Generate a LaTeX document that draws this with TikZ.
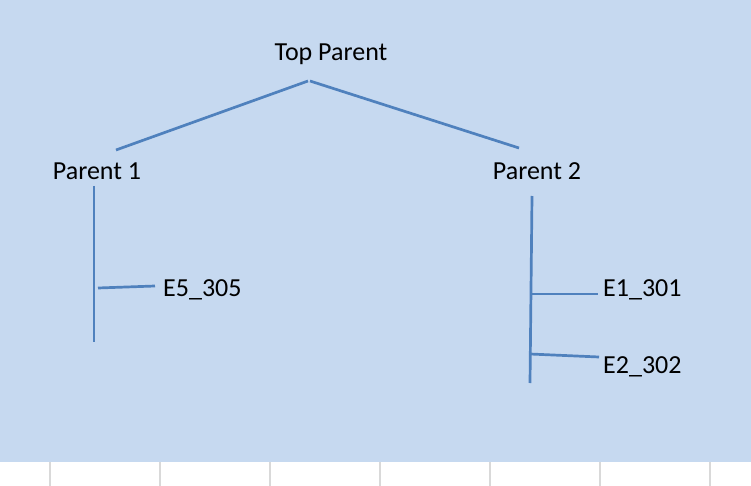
\documentclass[tikz,border=0pt]{standalone}
\usepackage{fontspec}
\setmainfont{Carlito}
\definecolor{bgblue}{HTML}{C6D9F0}
\definecolor{linkblue}{HTML}{4F81BD}
\definecolor{gridgray}{HTML}{D9D9D9}
\begin{document}
\begin{tikzpicture}[x=1pt,y=-1pt,
  lbl/.style={inner sep=0pt,font=\fontsize{26}{30}\selectfont,text=black},
  link/.style={draw=linkblue,line width=2.7pt},
  grid/.style={draw=gridgray,line width=1.2pt}]
\useasboundingbox (0,0) rectangle (751,486);
\fill[bgblue] (0,0) rectangle (751,462);
\foreach \gx in {50,160,270,380,490,600,710} \draw[grid] (\gx,462) -- (\gx,486);
% labels
\node[lbl] (top) at (331,54) {Top Parent};
\node[lbl] (p1) at (97,171) {Parent 1};
\node[lbl] (p2) at (537,171) {Parent 2};
\node[lbl,anchor=west] (e5) at (163,290) {E5\_305};
\node[lbl,anchor=west] (e1) at (603,290) {E1\_301};
\node[lbl,anchor=west] (e2) at (603,367) {E2\_302};
% connector end points
\coordinate (ta) at (308,81);
\coordinate (tb) at (310,81);
\coordinate (p1t) at (116,150);
\coordinate (p2t) at (519,148);
\coordinate (v1a) at (94,186);
\coordinate (v1b) at (94,342);
\coordinate (h5a) at (98,288);
\coordinate (h5b) at (155,286);
\coordinate (v2a) at (532,196);
\coordinate (v2b) at (530,383);
\coordinate (h1a) at (531,294);
\coordinate (h1b) at (598,294);
\coordinate (h2a) at (530,354);
\coordinate (h2b) at (599,357);
\draw[link] (ta) -- (p1t);
\draw[link] (tb) -- (p2t);
\draw[link] (v1a) -- (v1b);
\draw[link] (h5a) -- (h5b);
\draw[link] (v2a) -- (v2b);
\draw[link] (h1a) -- (h1b);
\draw[link] (h2a) -- (h2b);
\end{tikzpicture}
\end{document}
